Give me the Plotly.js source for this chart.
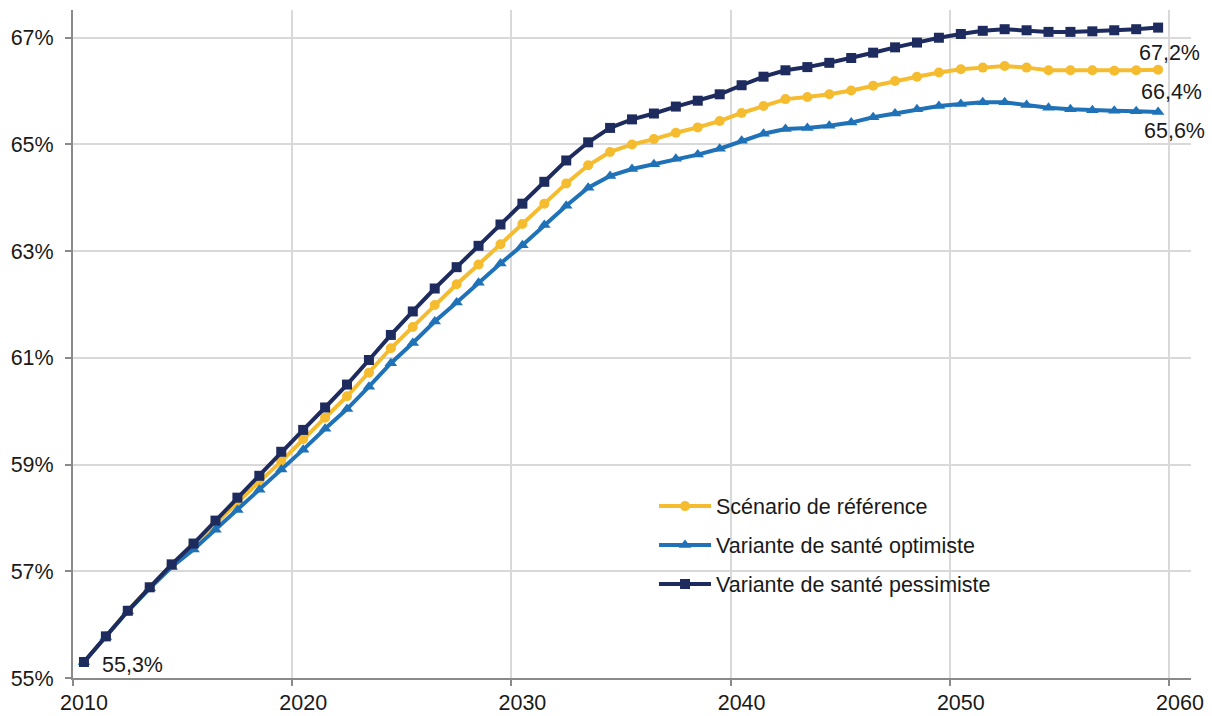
<!DOCTYPE html>
<html>
<head>
<meta charset="utf-8">
<script src="https://cdn.plot.ly/plotly-3.0.1.min.js"></script>
<style>
html,body{margin:0;padding:0;background:#fff;}
#chart{width:1212px;height:716px;}
</style>
</head>
<body>
<div id="chart"></div>
<script>
// Years (one point per year)
const years = [];
for (let y = 2010; y <= 2059; y++) years.push(y);

// Series values (% of population)
const reference = [55.30,55.78,56.26,56.70,57.12,57.50,57.90,58.30,58.68,59.06,
  59.48,59.88,60.28,60.72,61.18,61.58,61.99,62.38,62.75,63.13,
  63.51,63.89,64.27,64.61,64.86,65.00,65.10,65.22,65.32,65.44,
  65.59,65.72,65.85,65.89,65.94,66.01,66.10,66.19,66.27,66.35,
  66.41,66.44,66.47,66.44,66.39,66.39,66.39,66.38,66.39,66.40];

const optimiste = [55.30,55.77,56.25,56.68,57.08,57.41,57.78,58.15,58.53,58.91,
  59.28,59.67,60.04,60.46,60.90,61.28,61.68,62.04,62.41,62.77,
  63.11,63.49,63.85,64.19,64.41,64.54,64.63,64.73,64.81,64.92,
  65.07,65.20,65.29,65.31,65.35,65.41,65.51,65.58,65.66,65.72,
  65.76,65.79,65.79,65.74,65.69,65.66,65.64,65.63,65.62,65.61];

const pessimiste = [55.30,55.78,56.26,56.70,57.13,57.52,57.95,58.38,58.79,59.24,
  59.65,60.07,60.50,60.96,61.43,61.87,62.30,62.70,63.10,63.50,
  63.89,64.30,64.70,65.04,65.31,65.47,65.58,65.71,65.82,65.94,
  66.11,66.27,66.39,66.45,66.53,66.62,66.72,66.82,66.91,67.00,
  67.07,67.13,67.16,67.14,67.11,67.11,67.12,67.14,67.16,67.19];

const seriesNames = ["Scénario de référence", "Variante de santé optimiste", "Variante de santé pessimiste"];

// Axis ticks
const xTickYears = [2010, 2020, 2030, 2040, 2050, 2060];
const xGridYears = [2009.5, 2019.5, 2029.5, 2039.5, 2049.5, 2059.5];
const yTicks = [55, 57, 59, 61, 63, 65, 67];
const yTickText = ["55%", "57%", "59%", "61%", "63%", "65%", "67%"];

const FONT = "Liberation Sans, Arial, Helvetica, sans-serif";
const FS = 21.5;
const fmt = v => v.toFixed(1).replace('.', ',') + '%';

const traces = [
  {x: years, y: reference, name: seriesNames[0], legendgroup: 'a', type: 'scatter', mode: 'lines+markers',
   line: {color: '#F5BC2F', width: 4}, marker: {symbol: 'circle', size: 10, color: '#F5BC2F'}},
  {x: years, y: optimiste, name: seriesNames[1], legendgroup: 'b', type: 'scatter', mode: 'lines+markers',
   line: {color: '#1F72B8', width: 4}, marker: {symbol: 'triangle-up', size: 11, color: '#1F72B8'}},
  {x: years, y: pessimiste, name: seriesNames[2], legendgroup: 'c', type: 'scatter', mode: 'lines+markers',
   line: {color: '#1E2B5E', width: 4}, marker: {symbol: 'square', size: 10, color: '#1E2B5E'}}
];

const last = years.length - 1;
const annotations = [
  {x: years[0], y: pessimiste[0], text: fmt(pessimiste[0]), showarrow: false, xanchor: 'left', yanchor: 'middle', xshift: 16, yshift: -3},
  {x: years[last], y: pessimiste[last], text: fmt(pessimiste[last]), showarrow: false, xanchor: 'center', yanchor: 'middle', xshift: 11, yshift: -25},
  {x: years[last], y: reference[last], text: fmt(reference[last]), showarrow: false, xanchor: 'center', yanchor: 'middle', xshift: 13, yshift: -22},
  {x: years[last], y: optimiste[last], text: fmt(optimiste[last]), showarrow: false, xanchor: 'center', yanchor: 'middle', xshift: 16, yshift: -19}
].map(a => Object.assign(a, {font: {family: FONT, size: FS, color: '#1a1a1a'}}));

const layout = {
  width: 1212, height: 716,
  margin: {l: 73, r: 21, t: 10, b: 38},
  paper_bgcolor: '#fff', plot_bgcolor: '#fff',
  font: {family: FONT, size: FS, color: '#1a1a1a'},
  showlegend: true,
  legend: {x: 0.5197, y: 0.288, xanchor: 'left', yanchor: 'top', bgcolor: 'rgba(0,0,0,0)',
           font: {family: FONT, size: FS, color: '#1a1a1a'}, tracegroupgap: 8, traceorder: 'grouped',
           itemwidth: 52},
  xaxis: {
    range: [2009.5, 2060.5], tickmode: 'array', tickvals: xTickYears, ticktext: xTickYears.map(String),
    ticks: '', showgrid: false, zeroline: false,
    showline: true, linecolor: '#8a8a8a', linewidth: 2,
    tickfont: {family: FONT, size: FS, color: '#1a1a1a'},
    ticklabelstandoff: 4,
    minor: {tickmode: 'array', tickvals: xGridYears, ticks: 'outside', ticklen: 6, tickwidth: 2, tickcolor: '#8a8a8a',
            showgrid: true, gridcolor: '#d9d9d9', gridwidth: 2}
  },
  yaxis: {
    range: [55, 67.52], tickmode: 'array', tickvals: yTicks, ticktext: yTickText,
    ticks: 'outside', ticklen: 6, tickwidth: 2, tickcolor: '#8a8a8a',
    showgrid: true, gridcolor: '#d9d9d9', gridwidth: 2, zeroline: false,
    showline: true, linecolor: '#8a8a8a', linewidth: 2,
    tickfont: {family: FONT, size: FS, color: '#1a1a1a'},
    ticklabelstandoff: 7
  },
  annotations: annotations
};

Plotly.newPlot('chart', traces, layout, {displayModeBar: false, staticPlot: true});
</script>
</body>
</html>
